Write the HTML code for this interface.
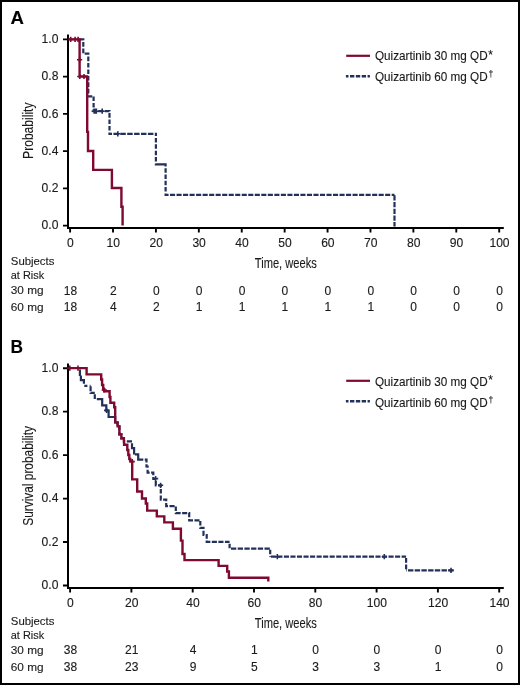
<!DOCTYPE html>
<html><head><meta charset="utf-8"><title>Kaplan-Meier curves</title>
<style>html,body{margin:0;padding:0;background:#fff;width:520px;height:685px;overflow:hidden}
svg text{font-family:"Liberation Sans", sans-serif;stroke:#1a1a1a;stroke-width:0.12px}</style></head>
<body>
<svg width="520" height="685" viewBox="0 0 520 685" style="display:block;will-change:transform">
<rect x="0" y="0" width="520" height="685" fill="#fff"/>
<rect x="1" y="1" width="518" height="683" fill="none" stroke="#000" stroke-width="2"/>
<text x="10.6" y="23.5" font-size="18.6" font-weight="bold" fill="#000">A</text>
<path d="M68 34.6 V229 M67 228 H503.8" stroke="#000" stroke-width="2" fill="none"/>
<path d="M63 225.65 H67 M63 188.4 H67 M63 151.15 H67 M63 113.9 H67 M63 76.65 H67 M63 39.4 H67 M70.1 229 V232.6 M113.01 229 V232.6 M155.92 229 V232.6 M198.83 229 V232.6 M241.74 229 V232.6 M284.65 229 V232.6 M327.56 229 V232.6 M370.47 229 V232.6 M413.38 229 V232.6 M456.29 229 V232.6 M499.2 229 V232.6" stroke="#000" stroke-width="1.9" fill="none"/>
<text x="58.4" y="229.35" font-size="12.1" text-anchor="end" fill="#1a1a1a">0.0</text>
<text x="58.4" y="192.1" font-size="12.1" text-anchor="end" fill="#1a1a1a">0.2</text>
<text x="58.4" y="154.85" font-size="12.1" text-anchor="end" fill="#1a1a1a">0.4</text>
<text x="58.4" y="117.6" font-size="12.1" text-anchor="end" fill="#1a1a1a">0.6</text>
<text x="58.4" y="80.35" font-size="12.1" text-anchor="end" fill="#1a1a1a">0.8</text>
<text x="58.4" y="43.1" font-size="12.1" text-anchor="end" fill="#1a1a1a">1.0</text>
<text x="70.4" y="247.3" font-size="12.1" text-anchor="middle" fill="#1a1a1a">0</text>
<text x="113.31" y="247.3" font-size="12.1" text-anchor="middle" fill="#1a1a1a">10</text>
<text x="156.22" y="247.3" font-size="12.1" text-anchor="middle" fill="#1a1a1a">20</text>
<text x="199.13" y="247.3" font-size="12.1" text-anchor="middle" fill="#1a1a1a">30</text>
<text x="242.04" y="247.3" font-size="12.1" text-anchor="middle" fill="#1a1a1a">40</text>
<text x="284.95" y="247.3" font-size="12.1" text-anchor="middle" fill="#1a1a1a">50</text>
<text x="327.86" y="247.3" font-size="12.1" text-anchor="middle" fill="#1a1a1a">60</text>
<text x="370.77" y="247.3" font-size="12.1" text-anchor="middle" fill="#1a1a1a">70</text>
<text x="413.68" y="247.3" font-size="12.1" text-anchor="middle" fill="#1a1a1a">80</text>
<text x="456.59" y="247.3" font-size="12.1" text-anchor="middle" fill="#1a1a1a">90</text>
<text x="499.5" y="247.3" font-size="12.1" text-anchor="middle" fill="#1a1a1a">100</text>
<text transform="translate(32.6 130.7) rotate(-90)" x="0" y="0" font-size="15" text-anchor="middle" textLength="56.4" lengthAdjust="spacingAndGlyphs" fill="#1a1a1a" stroke="#1a1a1a" stroke-width="0.3">Probability</text>
<text x="254.8" y="267.8" font-size="15" textLength="62" lengthAdjust="spacingAndGlyphs" fill="#1a1a1a" stroke="#2a2a2a" stroke-width="0.3">Time, weeks</text>
<path d="M346.2 55.8 H370" stroke="#7e0931" stroke-width="2.2"/>
<path d="M345.9 76.3 H369.9" stroke="#22305a" stroke-width="2.4" stroke-dasharray="4.35 1.5" stroke-dashoffset="1.75"/>
<text x="375" y="60.1" font-size="12.4" textLength="112.6" lengthAdjust="spacingAndGlyphs" fill="#1a1a1a">Quizartinib 30 mg QD</text>
<text x="488.2" y="58.6" font-size="12" fill="#1a1a1a">*</text>
<text x="375" y="81.2" font-size="12.4" textLength="112.6" lengthAdjust="spacingAndGlyphs" fill="#1a1a1a">Quizartinib 60 mg QD</text>
<text x="488.4" y="77" font-size="8.5" fill="#1a1a1a">†</text>
<text x="10.8" y="265" font-size="11.5" textLength="43.6" lengthAdjust="spacingAndGlyphs" fill="#1a1a1a">Subjects</text>
<text x="10.8" y="278.6" font-size="11.5" textLength="33.4" lengthAdjust="spacingAndGlyphs" fill="#1a1a1a">at Risk</text>
<text x="10.8" y="294.4" font-size="11.5" textLength="32.8" lengthAdjust="spacingAndGlyphs" fill="#1a1a1a">30 mg</text>
<text x="10.8" y="311.4" font-size="11.5" textLength="32.8" lengthAdjust="spacingAndGlyphs" fill="#1a1a1a">60 mg</text>
<text x="70.4" y="294.5" font-size="12" text-anchor="middle" fill="#1a1a1a">18</text>
<text x="113.31" y="294.5" font-size="12" text-anchor="middle" fill="#1a1a1a">2</text>
<text x="156.22" y="294.5" font-size="12" text-anchor="middle" fill="#1a1a1a">0</text>
<text x="199.13" y="294.5" font-size="12" text-anchor="middle" fill="#1a1a1a">0</text>
<text x="242.04" y="294.5" font-size="12" text-anchor="middle" fill="#1a1a1a">0</text>
<text x="284.95" y="294.5" font-size="12" text-anchor="middle" fill="#1a1a1a">0</text>
<text x="327.86" y="294.5" font-size="12" text-anchor="middle" fill="#1a1a1a">0</text>
<text x="370.77" y="294.5" font-size="12" text-anchor="middle" fill="#1a1a1a">0</text>
<text x="413.68" y="294.5" font-size="12" text-anchor="middle" fill="#1a1a1a">0</text>
<text x="456.59" y="294.5" font-size="12" text-anchor="middle" fill="#1a1a1a">0</text>
<text x="499.5" y="294.5" font-size="12" text-anchor="middle" fill="#1a1a1a">0</text>
<text x="70.4" y="311.3" font-size="12" text-anchor="middle" fill="#1a1a1a">18</text>
<text x="113.31" y="311.3" font-size="12" text-anchor="middle" fill="#1a1a1a">4</text>
<text x="156.22" y="311.3" font-size="12" text-anchor="middle" fill="#1a1a1a">2</text>
<text x="199.13" y="311.3" font-size="12" text-anchor="middle" fill="#1a1a1a">1</text>
<text x="242.04" y="311.3" font-size="12" text-anchor="middle" fill="#1a1a1a">1</text>
<text x="284.95" y="311.3" font-size="12" text-anchor="middle" fill="#1a1a1a">1</text>
<text x="327.86" y="311.3" font-size="12" text-anchor="middle" fill="#1a1a1a">1</text>
<text x="370.77" y="311.3" font-size="12" text-anchor="middle" fill="#1a1a1a">1</text>
<text x="413.68" y="311.3" font-size="12" text-anchor="middle" fill="#1a1a1a">0</text>
<text x="456.59" y="311.3" font-size="12" text-anchor="middle" fill="#1a1a1a">0</text>
<text x="499.5" y="311.3" font-size="12" text-anchor="middle" fill="#1a1a1a">0</text>
<path d="M79.5 39.4 L83.3 39.4 L83.3 40.26 M83.3 42.11 L83.3 46.71 M83.3 48.56 L83.3 53.16 M84.73 53.6 L88.3 53.6 L88.3 54.68 M88.3 56.53 L88.3 61.13 M88.3 62.98 L88.3 67.58 M88.3 69.43 L88.3 74.03 M88.3 75.88 L88.3 80.48 M88.3 82.33 L88.3 86.93 M88.3 88.78 L88.3 93.38 M88.3 95.23 L88.3 96.4 L92.22 96.4 M93.6 96.47 L93.6 101.07 M93.6 102.92 L93.6 107.52 M93.6 109.37 L93.6 111.2 L96.84 111.2 M98.29 111.2 L103.39 111.2 M104.84 111.2 L109.5 111.2 L109.5 111.21 M109.5 113.06 L109.5 117.66 M109.5 119.51 L109.5 124.11 M109.5 125.96 L109.5 130.56 M109.5 132.41 L109.5 133.8 L112 133.8 M113.4 133.8 L118.9 133.8 M120.3 133.8 L125.8 133.8 M127.2 133.8 L132.7 133.8 M134.1 133.8 L139.6 133.8 M141 133.8 L146.5 133.8 M147.9 133.8 L153.4 133.8 M154.8 133.8 L155.9 133.8 L155.9 136 M155.9 137.9 L155.9 142.4 M155.9 144.3 L155.9 148.8 M155.9 150.7 L155.9 155.2 M155.9 157.1 L155.9 161.6 M155.9 163.5 L155.9 164.4 L165.6 164.4 L165.6 166.4 M165.6 168.2 L165.6 172.7 M165.6 174.5 L165.6 179 M165.6 180.8 L165.6 185.3 M165.6 187.1 L165.6 191.6 M165.6 193.4 L165.6 194.9 L168.58 194.9 M170 194.9 L175.1 194.9 M176.52 194.9 L181.62 194.9 M183.04 194.9 L188.14 194.9 M189.56 194.9 L194.66 194.9 M196.08 194.9 L201.18 194.9 M202.6 194.9 L207.7 194.9 M209.12 194.9 L214.22 194.9 M215.64 194.9 L220.74 194.9 M222.16 194.9 L227.26 194.9 M228.68 194.9 L233.78 194.9 M235.2 194.9 L240.3 194.9 M241.72 194.9 L246.82 194.9 M248.24 194.9 L253.34 194.9 M254.76 194.9 L259.86 194.9 M261.28 194.9 L266.38 194.9 M267.8 194.9 L272.9 194.9 M274.32 194.9 L279.42 194.9 M280.84 194.9 L285.94 194.9 M287.36 194.9 L292.46 194.9 M293.88 194.9 L298.98 194.9 M300.4 194.9 L305.5 194.9 M306.92 194.9 L312.02 194.9 M313.44 194.9 L318.54 194.9 M319.96 194.9 L325.06 194.9 M326.48 194.9 L331.58 194.9 M333 194.9 L338.1 194.9 M339.52 194.9 L344.62 194.9 M346.04 194.9 L351.14 194.9 M352.56 194.9 L357.66 194.9 M359.08 194.9 L364.18 194.9 M365.6 194.9 L370.7 194.9 M372.12 194.9 L377.22 194.9 M378.64 194.9 L383.74 194.9 M385.16 194.9 L390.26 194.9 M391.68 194.9 L394.5 194.9 M394.5 195.2 L394.5 200.5 M394.5 201.93 L394.5 207.23 M394.5 208.66 L394.5 213.96 M394.5 215.39 L394.5 220.69 M394.5 222.12 L394.5 226.5" stroke="#22305a" stroke-width="2.2" fill="none" stroke-linejoin="miter"/>
<path d="M91.6 111.2 H96.8 M94.2 108.6 V113.8 M92.7 111.2 H97.9 M95.3 108.6 V113.8 M93.8 111.2 H99 M96.4 108.6 V113.8 M99.6 111.2 H104.8 M102.2 108.6 V113.8 M115.2 133.8 H120.4 M117.8 131.2 V136.4" stroke="#22305a" stroke-width="1.6" fill="none"/>
<path d="M69 39.4 H79.6 V76.5 H87.2 V131.9 H88 V151 H93.2 V169.9 H111.9 V188 H121.4 V206.7 H122.6 V225.6" stroke="#7e0931" stroke-width="2.4" fill="none"/>
<path d="M68.1 39.4 H73.3 M70.7 36.8 V42 M72.5 39.4 H77.7 M75.1 36.8 V42 M75.5 39.4 H80.7 M78.1 36.8 V42 M77 59.7 H82.2 M79.6 57.1 V62.3 M77.2 76.5 H82.4 M79.8 73.9 V79.1 M81.4 76.5 H86.6 M84 73.9 V79.1" stroke="#7e0931" stroke-width="1.6" fill="none"/>
<text x="10.6" y="352.6" font-size="18.6" font-weight="bold" textLength="12.5" lengthAdjust="spacingAndGlyphs" fill="#000">B</text>
<path d="M68 363.4 V589 M67 588 H503.8" stroke="#000" stroke-width="2" fill="none"/>
<path d="M63 585.5 H67 M63 542.04 H67 M63 498.58 H67 M63 455.12 H67 M63 411.66 H67 M63 368.2 H67 M70.1 589 V592.6 M131.4 589 V592.6 M192.7 589 V592.6 M254 589 V592.6 M315.3 589 V592.6 M376.6 589 V592.6 M437.9 589 V592.6 M499.2 589 V592.6" stroke="#000" stroke-width="1.9" fill="none"/>
<text x="58.4" y="589.2" font-size="12.1" text-anchor="end" fill="#1a1a1a">0.0</text>
<text x="58.4" y="545.74" font-size="12.1" text-anchor="end" fill="#1a1a1a">0.2</text>
<text x="58.4" y="502.28" font-size="12.1" text-anchor="end" fill="#1a1a1a">0.4</text>
<text x="58.4" y="458.82" font-size="12.1" text-anchor="end" fill="#1a1a1a">0.6</text>
<text x="58.4" y="415.36" font-size="12.1" text-anchor="end" fill="#1a1a1a">0.8</text>
<text x="58.4" y="371.9" font-size="12.1" text-anchor="end" fill="#1a1a1a">1.0</text>
<text x="70.4" y="607.3" font-size="12.1" text-anchor="middle" fill="#1a1a1a">0</text>
<text x="131.7" y="607.3" font-size="12.1" text-anchor="middle" fill="#1a1a1a">20</text>
<text x="193" y="607.3" font-size="12.1" text-anchor="middle" fill="#1a1a1a">40</text>
<text x="254.3" y="607.3" font-size="12.1" text-anchor="middle" fill="#1a1a1a">60</text>
<text x="315.6" y="607.3" font-size="12.1" text-anchor="middle" fill="#1a1a1a">80</text>
<text x="376.9" y="607.3" font-size="12.1" text-anchor="middle" fill="#1a1a1a">100</text>
<text x="438.2" y="607.3" font-size="12.1" text-anchor="middle" fill="#1a1a1a">120</text>
<text x="499.5" y="607.3" font-size="12.1" text-anchor="middle" fill="#1a1a1a">140</text>
<text transform="translate(32.6 475.9) rotate(-90)" x="0" y="0" font-size="15" text-anchor="middle" textLength="99.6" lengthAdjust="spacingAndGlyphs" fill="#1a1a1a" stroke="#1a1a1a" stroke-width="0.3">Survival probability</text>
<text x="254.8" y="627.8" font-size="15" textLength="62" lengthAdjust="spacingAndGlyphs" fill="#1a1a1a" stroke="#2a2a2a" stroke-width="0.3">Time, weeks</text>
<path d="M346.2 380.8 H370" stroke="#7e0931" stroke-width="2.2"/>
<path d="M345.9 401.3 H369.9" stroke="#22305a" stroke-width="2.4" stroke-dasharray="4.35 1.5" stroke-dashoffset="1.75"/>
<text x="375" y="385.6" font-size="12.4" textLength="112.6" lengthAdjust="spacingAndGlyphs" fill="#1a1a1a">Quizartinib 30 mg QD</text>
<text x="488.2" y="384.1" font-size="12" fill="#1a1a1a">*</text>
<text x="375" y="406.7" font-size="12.4" textLength="112.6" lengthAdjust="spacingAndGlyphs" fill="#1a1a1a">Quizartinib 60 mg QD</text>
<text x="488.4" y="402.5" font-size="8.5" fill="#1a1a1a">†</text>
<text x="10.8" y="625" font-size="11.5" textLength="43.6" lengthAdjust="spacingAndGlyphs" fill="#1a1a1a">Subjects</text>
<text x="10.8" y="638.6" font-size="11.5" textLength="33.4" lengthAdjust="spacingAndGlyphs" fill="#1a1a1a">at Risk</text>
<text x="10.8" y="653.6" font-size="11.5" textLength="32.8" lengthAdjust="spacingAndGlyphs" fill="#1a1a1a">30 mg</text>
<text x="10.8" y="670.6" font-size="11.5" textLength="32.8" lengthAdjust="spacingAndGlyphs" fill="#1a1a1a">60 mg</text>
<text x="70.4" y="653.7" font-size="12" text-anchor="middle" fill="#1a1a1a">38</text>
<text x="131.7" y="653.7" font-size="12" text-anchor="middle" fill="#1a1a1a">21</text>
<text x="193" y="653.7" font-size="12" text-anchor="middle" fill="#1a1a1a">4</text>
<text x="254.3" y="653.7" font-size="12" text-anchor="middle" fill="#1a1a1a">1</text>
<text x="315.6" y="653.7" font-size="12" text-anchor="middle" fill="#1a1a1a">0</text>
<text x="376.9" y="653.7" font-size="12" text-anchor="middle" fill="#1a1a1a">0</text>
<text x="438.2" y="653.7" font-size="12" text-anchor="middle" fill="#1a1a1a">0</text>
<text x="499.5" y="653.7" font-size="12" text-anchor="middle" fill="#1a1a1a">0</text>
<text x="70.4" y="670.5" font-size="12" text-anchor="middle" fill="#1a1a1a">38</text>
<text x="131.7" y="670.5" font-size="12" text-anchor="middle" fill="#1a1a1a">23</text>
<text x="193" y="670.5" font-size="12" text-anchor="middle" fill="#1a1a1a">9</text>
<text x="254.3" y="670.5" font-size="12" text-anchor="middle" fill="#1a1a1a">5</text>
<text x="315.6" y="670.5" font-size="12" text-anchor="middle" fill="#1a1a1a">3</text>
<text x="376.9" y="670.5" font-size="12" text-anchor="middle" fill="#1a1a1a">3</text>
<text x="438.2" y="670.5" font-size="12" text-anchor="middle" fill="#1a1a1a">1</text>
<text x="499.5" y="670.5" font-size="12" text-anchor="middle" fill="#1a1a1a">0</text>
<path d="M79.9 369.4 L79.9 374.8 L80.9 374.8 M80.9 375.6 L80.9 380.2 L83.9 380.2 L83.9 383.7 M84.3 385.8 L87.4 385.8 M89.7 385.8 L90.6 385.8 M90.6 386.2 L90.6 391.2 M90.6 392.65 L90.6 392.9 L94.8 392.9 M94.8 394.3 L94.8 399.1 M96.8 399.1 L102.2 399.1 L102.2 405.3 L106.3 405.3 L106.3 410.6 L108.6 410.6 L108.6 417 L115.2 417 L115.2 421.6 M116.16 422.5 L117.6 422.5 L117.6 425.69 M118.75 426.4 L119.4 426.4 L119.4 430.36 M119.4 432.21 L119.4 434.4 L121.4 434.4 L121.4 434.84 M121.4 436.69 L121.4 438.3 L123.9 438.3 L123.9 438.83 M123.9 440.68 L123.9 441.3 M126.8 441.3 L132 441.3 M132 443.3 L132 448.1 L134.1 448.1 L134.1 454.4 M134.9 454.4 L138.2 454.4 L138.2 459.6 L143.3 459.6 M144.75 459.6 L146.5 459.6 L146.5 462.48 M146.5 464.33 L146.5 466.5 L147.6 466.5 L147.6 467.84 M147.6 469.69 L147.6 472.7 L149.65 472.7 M151.1 472.7 L153.3 472.7 L153.3 475.13 M153.3 476.98 L153.3 479 L155.8 479 L155.8 479.12 M155.8 480.97 L155.8 485.3 L156.5 485.3 M157.95 485.3 L160.8 485.3 L160.8 487.1 M160.8 488.95 L160.8 493.55 M160.8 495.4 L160.8 499.6 L161.63 499.6 M163.08 499.6 L166.2 499.6 L166.2 501.13 M166.2 502.98 L166.2 506.2 L168.03 506.2 M169.48 506.2 L174.58 506.2 M175.8 506.42 L175.8 511.02 M175.8 512.87 L175.8 513.1 L180.67 513.1 M182.12 513.1 L187.22 513.1 M188.67 513.1 L189.2 513.1 L189.2 517.18 M189.2 519.03 L189.2 520.3 L193.01 520.3 M194.46 520.3 L199.56 520.3 M200.3 521 L200.3 525.6 M200.3 527.45 L200.3 527.8 L203.5 527.8 L203.5 528.9 M203.5 530.75 L203.5 535 L204.28 535 M205.73 535 L206.7 535 L206.7 538.65 M206.7 540.5 L206.7 541.9 L210.37 541.9 M211.82 541.9 L216.92 541.9 M218.37 541.9 L223.47 541.9 M224.92 541.9 L229.6 541.9 M229.6 543.75 L229.6 548.35 M231 548.7 L236.3 548.7 M237.7 548.7 L243 548.7 M244.4 548.7 L249.7 548.7 M251.1 548.7 L256.4 548.7 M257.8 548.7 L263.1 548.7 M264.5 548.7 L269.8 548.7 M270.2 549.66 L270.2 554.26 M270.2 556.11 L270.2 556.7 M270.8 556.7 L275.9 556.7 M277.34 556.7 L282.44 556.7 M283.88 556.7 L288.98 556.7 M290.42 556.7 L295.52 556.7 M296.96 556.7 L302.06 556.7 M303.5 556.7 L308.6 556.7 M310.04 556.7 L315.14 556.7 M316.58 556.7 L321.68 556.7 M323.12 556.7 L328.22 556.7 M329.66 556.7 L334.76 556.7 M336.2 556.7 L341.3 556.7 M342.74 556.7 L347.84 556.7 M349.28 556.7 L354.38 556.7 M355.82 556.7 L360.92 556.7 M362.36 556.7 L367.46 556.7 M368.9 556.7 L374 556.7 M375.44 556.7 L380.54 556.7 M381.98 556.7 L387.08 556.7 M388.52 556.7 L393.62 556.7 M395.06 556.7 L400.16 556.7 M401.6 556.7 L406.1 556.7 M406.1 558 L406.1 562.8 M406.1 564.5 L406.1 569.3 M406.1 570.4 L406.7 570.4 M408 570.4 L413.4 570.4 M414.7 570.4 L420.1 570.4 M421.4 570.4 L426.8 570.4 M428.1 570.4 L433.5 570.4 M434.8 570.4 L440.2 570.4 M441.5 570.4 L446.9 570.4 M448.2 570.4 L453.6 570.4" stroke="#22305a" stroke-width="2.2" fill="none" stroke-linejoin="miter"/>
<path d="M104 410.4 H109.2 M106.6 407.8 V413 M153 478.6 H158.2 M155.6 476 V481.2 M158 485.3 H163.2 M160.6 482.7 V487.9 M274.7 556.7 H279.9 M277.3 554.1 V559.3 M381.7 556.7 H386.9 M384.3 554.1 V559.3 M448.4 570.4 H453.6 M451 567.8 V573" stroke="#22305a" stroke-width="1.6" fill="none"/>
<path d="M69 368.1 H86.6 V374.4 H101.2 V379.5 H102.1 V385 H103.2 V389.3 H104.2 V391.3 H109.6 V397 H110.4 V402.7 H114.2 V407.3 H115.2 V422.5 H117.6 V426.4 H119.4 V434.4 H121.4 V438.3 H123.9 V441.3 H124.1 V444.8 H127.3 V450 H128.3 V455 H129.3 V459 H130.3 V461.4 H132.2 V479.4 H137.2 V491.5 H142 V498.5 H145.8 V503.5 H147.2 V510.6 H156.8 V516.4 H164.3 V522.4 H172.9 V528.7 H180.9 V540.6 H182.5 V554 H184.5 V560.1 H218.6 V565.9 H227.2 V571.5 H228.9 V577.7 H268.3 V581.6" stroke="#7e0931" stroke-width="2.4" fill="none"/>
<path d="M67.2 368.1 H72.4 M69.8 365.5 V370.7 M75.4 368.1 H80.6 M78 365.5 V370.7 M101.7 390 H106.9 M104.3 387.4 V392.6 M129.6 461.6 H134.8 M132.2 459 V464.2" stroke="#7e0931" stroke-width="1.6" fill="none"/>
</svg>
</body></html>
